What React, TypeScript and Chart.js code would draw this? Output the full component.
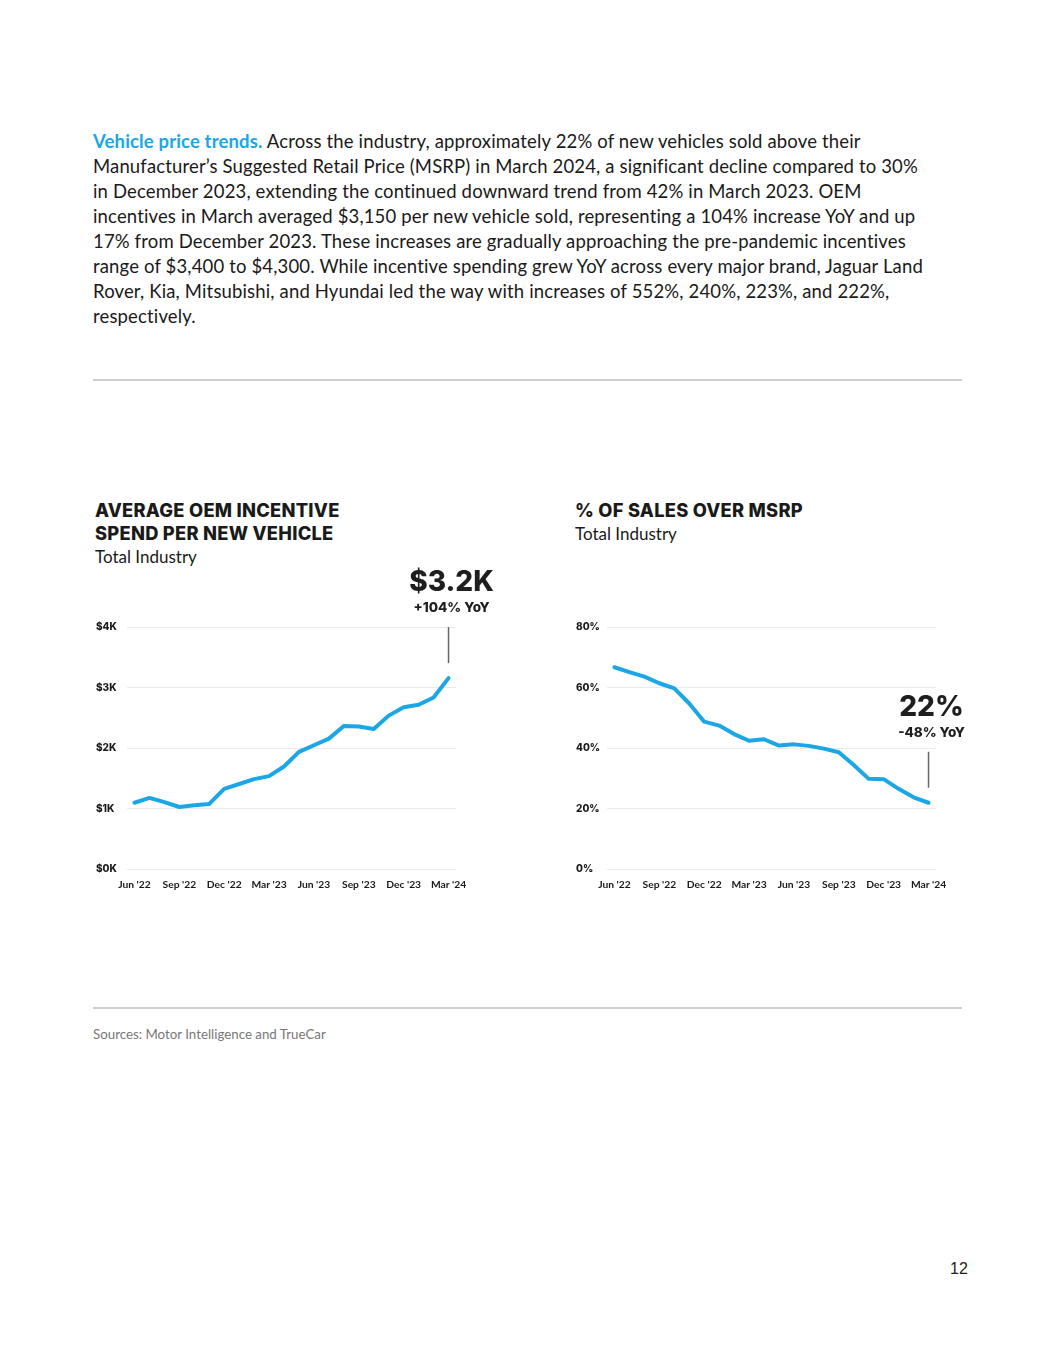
import React, { useEffect, useRef } from "react";
import { Chart, registerables } from "chart.js";
Chart.register(...registerables);

const months = [
  "Jun '22", "Jul '22", "Aug '22", "Sep '22", "Oct '22", "Nov '22", "Dec '22",
  "Jan '23", "Feb '23", "Mar '23", "Apr '23", "May '23", "Jun '23", "Jul '23",
  "Aug '23", "Sep '23", "Oct '23", "Nov '23", "Dec '23", "Jan '24", "Feb '24", "Mar '24",
];
const incentiveK = [
  1.10, 1.18, 1.11, 1.03, 1.06, 1.08, 1.33, 1.41, 1.49, 1.54, 1.70,
  1.94, 2.05, 2.16, 2.37, 2.36, 2.32, 2.54, 2.68, 2.72, 2.84, 3.16,
];
const overMsrpPct = [
  66.8, 65.2, 63.7, 61.5, 59.8, 54.8, 48.8, 47.5, 44.7, 42.5, 43.0,
  40.9, 41.3, 40.8, 39.9, 38.7, 34.5, 29.9, 29.8, 26.6, 23.8, 22.0,
];
const incentiveTicks = ["$0K", "$1K", "$2K", "$3K", "$4K"];
const msrpTicks = ["0%", "20%", "40%", "60%", "80%"];
const incentiveCallout = ["$3.2K", "+104% YoY"];
const msrpCallout = ["22%", "-48% YoY"];

const FONT = "Lato, 'Noto Sans', sans-serif";
const HEAVY = "Inter, 'Noto Sans', sans-serif";
const BLUE = "#1ba6e6";
const INK = "#1a1a1a";

type ChartProps = {
  values: number[];
  yMax: number;
  yStep: number;
  yTicks: string[];
  callout: string[];
  left: number;
  top: number;
};

function LineChart({ values, yMax, yStep, yTicks, callout, left, top }: ChartProps) {
  const ref = useRef<HTMLCanvasElement | null>(null);
  useEffect(() => {
    if (!ref.current) return;
    const calloutPlugin = {
      id: "callout",
      afterDatasetsDraw(chart: any) {
        const meta = chart.getDatasetMeta(0);
        const pt = meta.data[meta.data.length - 1];
        if (!pt) return;
        const ctx = chart.ctx;
        const x = pt.x;
        const y1 = pt.y - 15;
        const y0 = pt.y - 51;
        ctx.save();
        ctx.strokeStyle = "#666";
        ctx.lineWidth = 1.5;
        ctx.beginPath();
        ctx.moveTo(x, y0);
        ctx.lineTo(x, y1);
        ctx.stroke();
        ctx.fillStyle = "#1e1e1e";
        ctx.textAlign = "center";
        ctx.textBaseline = "alphabetic";
        ctx.font = `800 28px ${HEAVY}`;
        ctx.fillText(callout[0], x + 3, y0 - 36);
        ctx.font = `800 13.5px ${HEAVY}`;
        ctx.fillText(callout[1], x + 3, y0 - 15);
        ctx.restore();
      },
    };
    const chart = new Chart(ref.current, {
      type: "line",
      data: {
        labels: months,
        datasets: [
          {
            data: values,
            borderColor: BLUE,
            borderWidth: 4,
            pointRadius: 0,
            tension: 0,
            fill: false,
            borderJoinStyle: "round",
            borderCapStyle: "round",
          },
        ],
      },
      options: {
        animation: false,
        responsive: true,
        maintainAspectRatio: false,
        layout: { padding: { top: 87.3, right: 50, left: 0, bottom: 0 } },
        plugins: { legend: { display: false }, tooltip: { enabled: false } },
        scales: {
          x: {
            type: "category",
            offset: true,
            grid: { display: false, drawTicks: false },
            border: { display: false },
            ticks: {
              autoSkip: false,
              maxRotation: 0,
              minRotation: 0,
              padding: 9,
              color: INK,
              font: { family: FONT, size: 10.3, weight: "700" },
              callback: (_v: any, i: number) => (i % 3 === 0 ? months[i] : ""),
            },
            afterFit: (s: any) => {
              s.height = 26.7;
            },
          },
          y: {
            min: 0,
            max: yMax,
            ticks: {
              stepSize: yStep,
              crossAlign: "far",
              padding: 0,
              color: INK,
              font: { family: HEAVY, size: 10, weight: "800" },
              callback: (v: any) => yTicks[Math.round(Number(v) / yStep)] ?? "",
            },
            grid: { color: "#ebebeb", lineWidth: 1, drawTicks: false },
            border: { display: false },
            afterFit: (s: any) => {
              s.width = 31;
            },
          },
        },
      } as any,
      plugins: [calloutPlugin],
    });
    return () => chart.destroy();
  }, []);
  return (
    <div style={{ position: "absolute", left, top, width: 410, height: 356 }}>
      <canvas ref={ref} />
    </div>
  );
}

export default function App() {
  const text: React.CSSProperties = { fontFamily: FONT, color: INK };
  const heading: React.CSSProperties = {
    fontFamily: HEAVY,
    fontWeight: 800,
    fontSize: 18.3,
    letterSpacing: "0.25px",
  };
  return (
    <div
      style={{
        position: "absolute",
        left: 0,
        top: 0,
        width: 1055,
        height: 1365,
        background: "#fff",
        overflow: "hidden",
        ...text,
      }}
    >
      <div
        style={{
          position: "absolute",
          left: 93,
          top: 128.5,
          fontSize: 18.5,
          letterSpacing: "0.15px",
          lineHeight: "25px",
          whiteSpace: "nowrap",
        }}
      >
        <span style={{ color: BLUE, fontWeight: 700 }}>Vehicle price trends.</span> Across the industry, approximately 22% of new vehicles sold above their
        <br />
        Manufacturer’s Suggested Retail Price (MSRP) in March 2024, a significant decline compared to 30%
        <br />
        in December 2023, extending the continued downward trend from 42% in March 2023. OEM
        <br />
        incentives in March averaged $3,150 per new vehicle sold, representing a 104% increase YoY and up
        <br />
        17% from December 2023. These increases are gradually approaching the pre-pandemic incentives
        <br />
        range of $3,400 to $4,300. While incentive spending grew YoY across every major brand, Jaguar Land
        <br />
        Rover, Kia, Mitsubishi, and Hyundai led the way with increases of 552%, 240%, 223%, and 222%,
        <br />
        respectively.
      </div>

      <div style={{ position: "absolute", left: 93, top: 379, width: 869, height: 2, background: "#cfcfcf" }} />

      <div style={{ position: "absolute", left: 95, top: 498.5, fontSize: 18, lineHeight: "23px", whiteSpace: "nowrap" }}>
        <div style={heading}>AVERAGE OEM INCENTIVE</div>
        <div style={heading}>SPEND PER NEW VEHICLE</div>
        <div style={{ fontWeight: 400, fontSize: 17 }}>Total Industry</div>
      </div>
      <div style={{ position: "absolute", left: 575, top: 498.5, fontSize: 18, lineHeight: "23px", whiteSpace: "nowrap" }}>
        <div style={heading}>% OF SALES OVER MSRP</div>
        <div style={{ fontWeight: 400, fontSize: 17 }}>Total Industry</div>
      </div>

      <LineChart values={incentiveK} yMax={4} yStep={1} yTicks={incentiveTicks} callout={incentiveCallout} left={96} top={540} />
      <LineChart values={overMsrpPct} yMax={80} yStep={20} yTicks={msrpTicks} callout={msrpCallout} left={576} top={540} />

      <div style={{ position: "absolute", left: 93, top: 1007, width: 869, height: 2, background: "#cfcfcf" }} />
      <div style={{ position: "absolute", left: 93, top: 1025.5, fontSize: 13.3, color: "#777", whiteSpace: "nowrap" }}>
        Sources: Motor Intelligence and TrueCar
      </div>
      <div
        style={{
          position: "absolute",
          left: 950,
          top: 1260,
          fontSize: 16,
          fontFamily: "'Liberation Sans', Arial, sans-serif",
          color: "#222",
        }}
      >
        12
      </div>
    </div>
  );
}
